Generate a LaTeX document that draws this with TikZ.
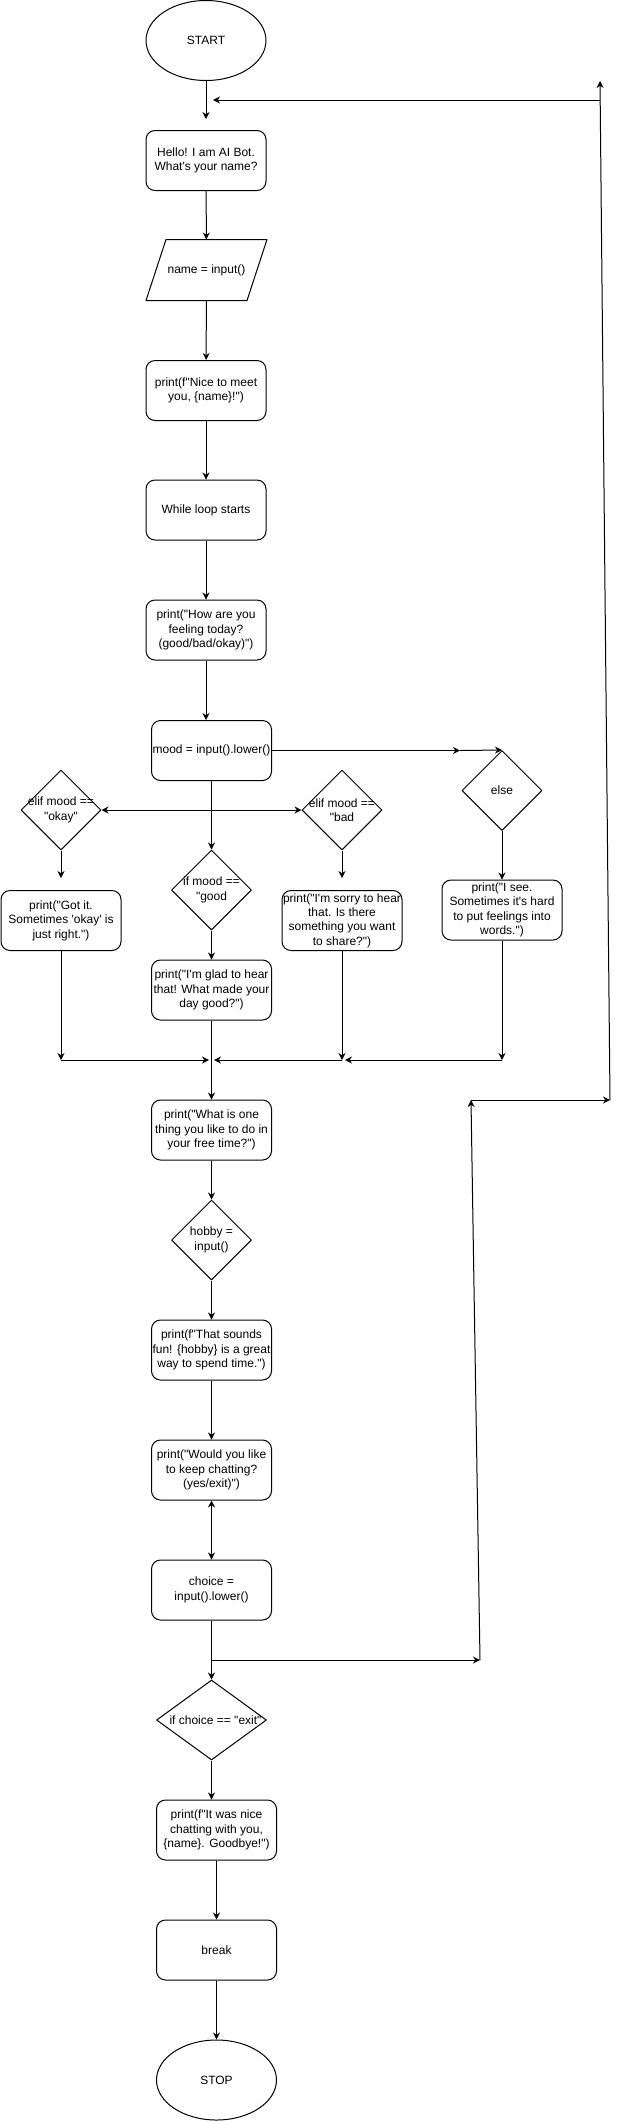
\documentclass[tikz,border=0pt]{standalone}
\usepackage{fontspec}
\setmainfont{Liberation Sans}[Ligatures=TeXOff]
\usetikzlibrary{arrows.meta,shapes.geometric}
\tikzset{
	box/.style={draw, rounded corners=9pt, minimum width=120pt, minimum height=60pt, inner sep=0pt, align=center},
	term/.style={draw, ellipse, minimum width=120pt, minimum height=80pt, inner sep=0pt},
	io/.style={minimum width=120pt, minimum height=60pt, inner sep=0pt},
	dec/.style={draw, diamond, minimum width=80pt, minimum height=80pt, inner sep=0pt}
}
\begin{document}
\begin{tikzpicture}[x=1pt, y=-1pt, font=\fontsize{12}{14.4}\selectfont, line width=1pt, line join=round, >={Stealth[length=7pt,width=7pt]}]
			\useasboundingbox (0,0) rectangle (619,2121);
			\node[term] (start) at (206,40.5) {START};
			\node[box] (hello) at (206,160.5) {Hello! I am AI Bot.\\What's your name?};
			\node[io] (name) at (206.5,270) {name = input()};
			\draw ([xshift=20pt]name.north west) -- (name.north east) -- ([xshift=-20pt]name.south east) -- (name.south west) -- cycle;
			\node[box] (nice) at (206,390.5) {print(f"Nice to meet\\you, \{name\}!")};
			\node[box] (whl) at (206,510) {While loop starts};
			\node[box] (how) at (206,630) {print("How are you\\feeling today?\\(good/bad/okay)")};
			\node[box] (mood) at (211.5,750.5) {mood = input().lower()};
			\node[dec, label={[align=center]center:elif mood ==\\"okay"}] (okay) at (61,810) {};
			\node[dec, label={[align=center]center:if mood ==\\"good}] (good) at (211.5,890) {};
			\node[dec, label={[align=center]center:elif mood ==\\"bad}] (bad) at (342,810) {};
			\node[dec, label=center:else] (other) at (502,790.5) {};
			\node[box] (gotit) at (61,920.5) {print("Got it.\\Sometimes 'okay' is\\just right.")};
			\node[box] (glad) at (211.5,990) {print("I'm glad to hear\\that! What made your\\day good?")};
			\node[box] (sorry) at (342,920.5) {print("I'm sorry to hear\\that. Is there\\something you want\\to share?")};
			\node[box] (isee) at (502,910) {print("I see.\\Sometimes it's hard\\to put feelings into\\words.")};
			\node[box] (what) at (211.5,1130) {print("What is one\\thing you like to do in\\your free time?")};
			\node[dec, label={[align=center]center:hobby =\\input()}] (hobby) at (211.5,1240) {};
			\node[box] (fun) at (211.5,1350) {print(f"That sounds\\fun! \{hobby\} is a great\\way to spend time.")};
			\node[box] (again) at (211.5,1470) {print("Would you like\\to keep chatting?\\(yes/exit)")};
			\node[box] (choice) at (211.5,1590) {choice =\\input().lower()};
			\node[dec, minimum width=110pt, label={[xshift=4pt]center:if choice == "exit"}] (quit) at (211.5,1720) {};
			\node[box] (bye) at (216.5,1830) {print(f"It was nice\\chatting with you,\\\{name\}. Goodbye!")};
			\node[box] (brk) at (216.5,1950) {break};
			\node[term] (stop) at (216.5,2080) {STOP};
			\coordinate (s1) at (206,119);
			\coordinate (e1) at (460,750.5);
			\coordinate (o1) at (61,878);
			\coordinate (b1) at (342,878);
			\coordinate (j1) at (61,1060);
			\coordinate (j2) at (209,1060);
			\coordinate (j3) at (342,1060);
			\coordinate (j4) at (214,1060);
			\coordinate (j5) at (502,1060);
			\coordinate (j6) at (345,1060);
			\coordinate (l1) at (211.5,1660);
			\coordinate (l2) at (480,1660);
			\coordinate (l3) at (471,1100);
			\coordinate (l4) at (610,1100);
			\coordinate (l5) at (600,81);
			\coordinate (l6) at (600,100);
			\coordinate (l7) at (213,100);
			\draw[->] (start) -- (s1);
			\foreach \a/\b in {hello/name,name/nice,nice/whl,whl/how,mood/good,good/glad,other/isee,glad/what,what/hobby,hobby/fun,fun/again,choice/quit,bye/brk,brk/stop}
			\draw[->] (\a) -- (\b);
			\draw[->] (how) -- (how |- mood.north);
			\draw[->] (quit) -- (quit |- bye.north);
			\draw[<->] (okay) -- (bad);
			\draw[<->] (again) -- (choice);
			\draw[->] (mood) -- (e1);
			\draw[->] (e1) -- (other.north);
			\draw[->] (okay) -- (o1);
			\draw[->] (bad) -- (b1);
			\draw[->] (gotit) -- (j1);
			\draw[->] (j1) -- (j2);
			\draw[->] (sorry) -- (j3);
			\draw[->] (j3) -- (j4);
			\draw[->] (isee) -- (j5);
			\draw[->] (j5) -- (j6);
			\draw[->] (l1) -- (l2);
			\draw[->] (l2) -- (l3);
			\draw[->] (l3) -- (l4);
			\draw[->] (l4) -- (l5);
			\draw[->] (l6) -- (l7);
\end{tikzpicture}
\end{document}
